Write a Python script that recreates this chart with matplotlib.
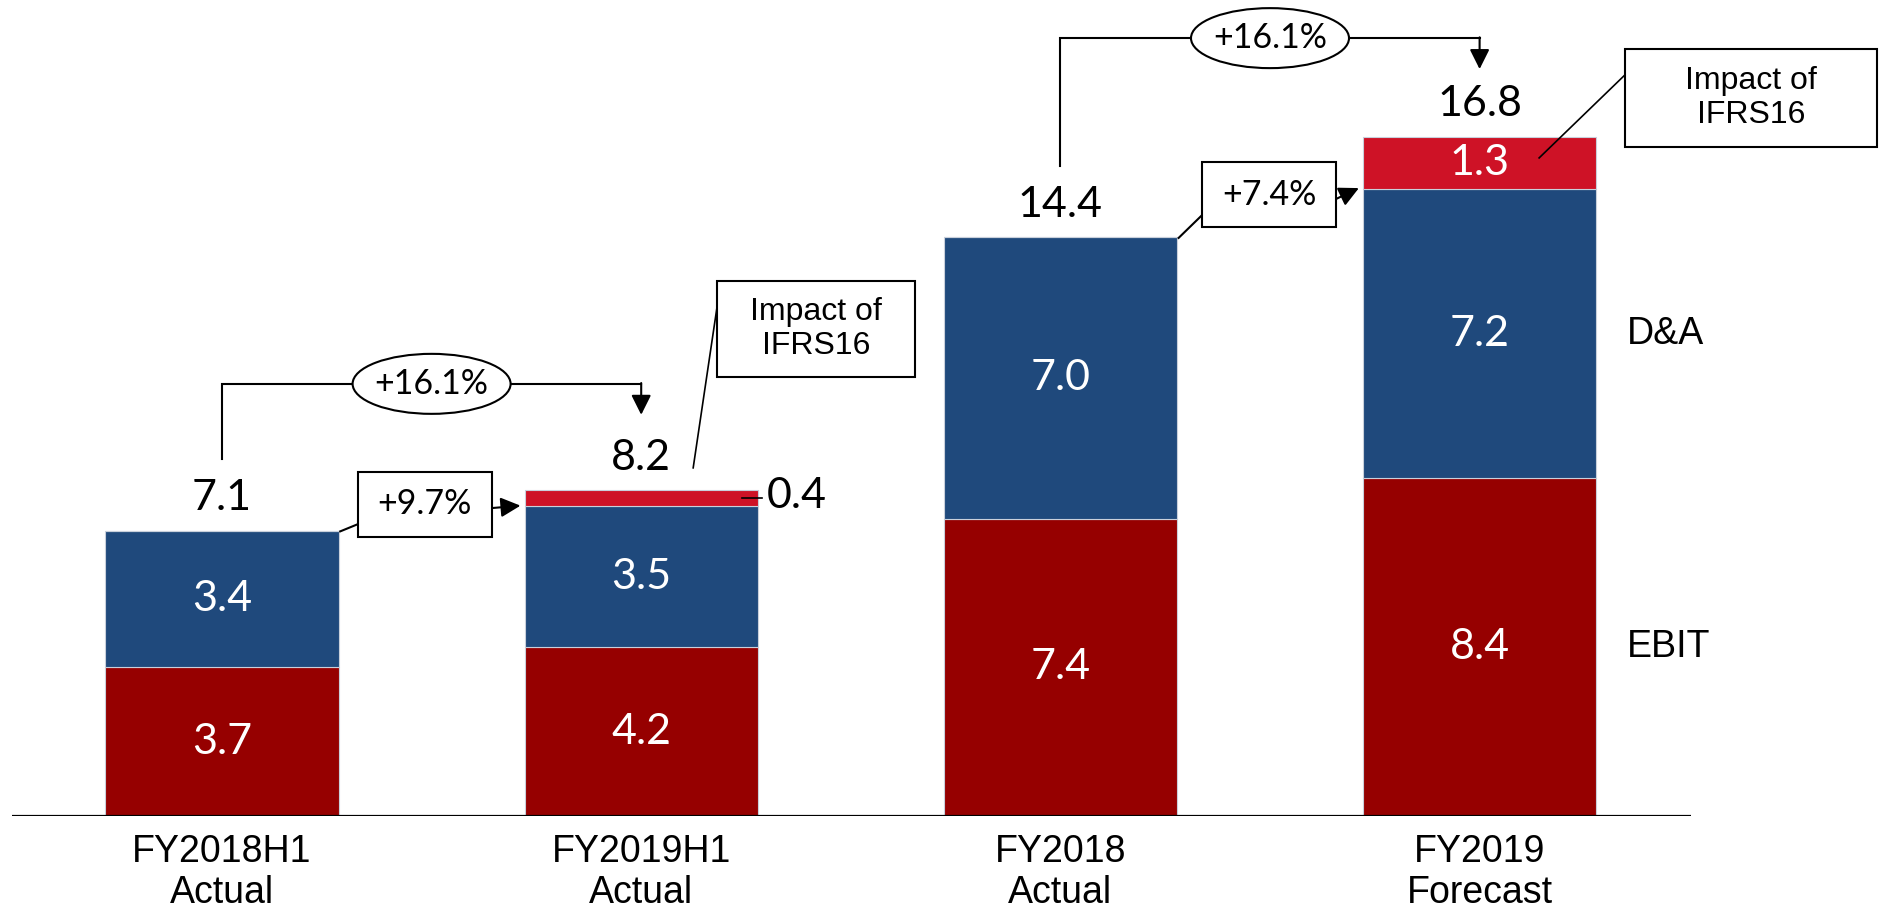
import matplotlib
matplotlib.use("Agg")
import matplotlib.pyplot as plt
from matplotlib.patches import Ellipse, Rectangle

# EBITA bridge: EBIT + D&A, with the IFRS16 impact stacked on top
categories = ["FY2018H1\nActual", "FY2019H1\nActual", "FY2018\nActual", "FY2019\nForecast"]
ebit = [3.7, 4.2, 7.4, 8.4]
da = [3.4, 3.5, 7.0, 7.2]
ifrs16 = [0.0, 0.4, 0.0, 1.3]
totals = [7.1, 8.2, 14.4, 16.8]

# period-on-period growth (boxes) and like-for-like growth (ellipses)
box_growth = [("+9.7%", 0, 1), ("+7.4%", 2, 3)]
oval_growth = [("+16.1%", 0, 1), ("+16.1%", 2, 3)]

C_EBIT = "#960000"
C_DA = "#1F497C"
C_IFRS = "#CE1226"
NUM_FONT = ["Lato", "DejaVu Sans"]
TXT_FONT = ["Liberation Sans", "DejaVu Sans"]

W, H, DPI = 1881, 913, 100
BASE_PX = 816      # baseline, pixels from top
PX_PER_UNIT = 40.2
X0_PX, STEP_PX = 222, 419.2

fig = plt.figure(figsize=(W / DPI, H / DPI), dpi=DPI)
ax = fig.add_axes([0, (H - BASE_PX) / H, 1, BASE_PX / H])
ax.set_xlim(-X0_PX / STEP_PX, (W - X0_PX) / STEP_PX)
ax.set_ylim(0, BASE_PX / PX_PER_UNIT)
ax.axis("off")

xu = 1 / STEP_PX        # data units per pixel, x
yu = 1 / PX_PER_UNIT    # data units per pixel, y
x = list(range(len(categories)))
bw = 0.556

edge = dict(edgecolor="#c9d0db", linewidth=0.8)
ax.bar(x, ebit, bw, color=C_EBIT, **edge, zorder=2)
ax.bar(x, da, bw, bottom=ebit, color=C_DA, **edge, zorder=2)
base2 = [e + d for e, d in zip(ebit, da)]
ax.bar(x, ifrs16, bw, bottom=base2, color=C_IFRS, **edge, zorder=2)
ax.hlines(0, -0.5, 3.505, color="black", linewidth=1.6, zorder=3)

tops = [b + i for b, i in zip(base2, ifrs16)]

# segment labels
for i in x:
    ax.text(i, ebit[i] / 2, f"{ebit[i]:.1f}", color="white", ha="center", va="center",
            fontsize=31, family=NUM_FONT, zorder=4)
    ax.text(i, ebit[i] + da[i] / 2, f"{da[i]:.1f}", color="white", ha="center", va="center",
            fontsize=31, family=NUM_FONT, zorder=4)
    ax.text(i, tops[i] + 0.8, f"{totals[i]:.1f}", color="black", ha="center", va="center",
            fontsize=31, family=NUM_FONT, zorder=4)

# IFRS16 segments: large one labelled inside, small one outside with a tick
ax.text(3, base2[3] + ifrs16[3] / 2, f"{ifrs16[3]:.1f}", color="white", ha="center",
        va="center", fontsize=31, family=NUM_FONT, zorder=4)
y04 = base2[1] + ifrs16[1] / 2
ax.plot([1 + 0.241, 1 + 0.289], [y04, y04], color="black", lw=1.2, zorder=4)
ax.text(1.30, y04 + 0.05, f"{ifrs16[1]:.1f}", color="black", ha="left", va="center",
        fontsize=31, family=NUM_FONT, zorder=4)

# category labels under the axis
for i, lab in zip(x, categories):
    ax.text(i, -1.40, lab, ha="center", va="center", fontsize=27, family=TXT_FONT,
            linespacing=1.18, clip_on=False)

# series names on the right
ax.text(3.352, ebit[3] + da[3] / 2, "D&A", ha="left", va="center", fontsize=27, family=TXT_FONT)
ax.text(3.352, ebit[3] / 2, "EBIT", ha="left", va="center", fontsize=27, family=TXT_FONT)

arrow = dict(arrowstyle="-|>", color="black", lw=1.5, mutation_scale=30, shrinkA=0, shrinkB=0)

# bracket arrows with the oval growth rate
for label, a, b in oval_growth:
    y_start = totals[a] + 1.78
    y_level = totals[b] + 2.55
    y_tip = totals[b] + 1.78
    ax.plot([a, a, b], [y_start, y_level, y_level], color="black", lw=1.5,
            solid_joinstyle="miter", zorder=5)
    ax.annotate("", xy=(b, y_tip), xytext=(b, y_level + 0.02), arrowprops=arrow, zorder=5)
    xm = (a + b) / 2
    ax.add_patch(Ellipse((xm, y_level), 158 * xu, 60 * yu, facecolor="white",
                         edgecolor="black", lw=1.5, zorder=6))
    ax.text(xm, y_level, label, ha="center", va="center", fontsize=24.5, family=NUM_FONT, zorder=7)

# boxed growth rates between neighbouring bars
box_x = [0.484, 2.498]
box_y = [7.76, 15.45]
for (label, a, b), bx, by in zip(box_growth, box_x, box_y):
    bwid, bhgt = 134 * xu, 65 * yu
    ax.add_patch(Rectangle((bx - bwid / 2, by - bhgt / 2), bwid, bhgt, facecolor="white",
                           edgecolor="black", lw=1.5, zorder=6))
    ax.text(bx, by, label, ha="center", va="center", fontsize=24.5, family=NUM_FONT, zorder=7)
    ax.plot([a + bw / 2 + 0.004, bx - bwid / 2], [tops[a] - 0.02, by - 0.5],
            color="black", lw=1.5, zorder=5)
    ax.annotate("", xy=(b - bw / 2 - 0.01, base2[b] + 0.02), xytext=(bx + bwid / 2, by - 0.1),
                arrowprops=arrow, zorder=5)

# "Impact of IFRS16" callouts
callouts = [
    ((1.417, 12.11), (198 * xu, 96 * yu), (1.124, 8.66)),
    ((3.647, 17.86), (252 * xu, 98 * yu), (3.142, 16.37)),
]
for (cx, cy), (cw, ch), (sx, sy) in callouts:
    ax.add_patch(Rectangle((cx - cw / 2, cy - ch / 2), cw, ch, facecolor="white",
                           edgecolor="black", lw=1.5, zorder=6, clip_on=False))
    ax.text(cx, cy, "Impact of\nIFRS16", ha="center", va="center", fontsize=23,
            family=TXT_FONT, linespacing=1.15, zorder=7)
    ax.plot([sx, cx - cw / 2], [sy, cy + ch / 2 - 26 * yu], color="black", lw=1.2, zorder=5)

fig.savefig("out.png", dpi=DPI, facecolor="white")
